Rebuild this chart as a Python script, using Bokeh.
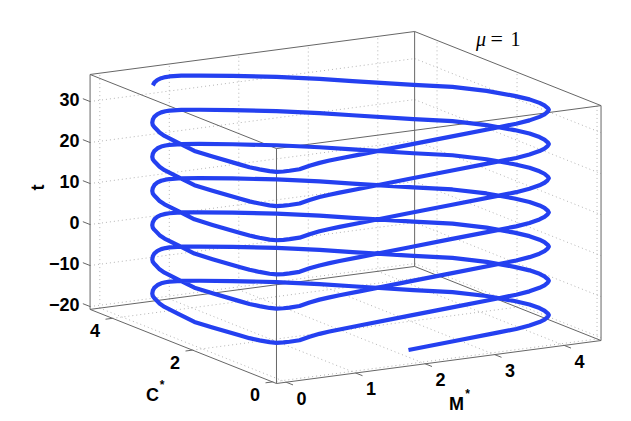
from bokeh.plotting import figure
from bokeh.models import Range1d
from bokeh.core.properties import value
from bokeh.embed import file_html
from bokeh.resources import INLINE

t_ticks = [-20, -10, 0, 10, 20, 30]
M_ticks = [0, 1, 2, 3, 4]
C_ticks = [0, 2, 4]
M_lim = [-0.14, 4.53]
C_lim = [-0.10, 4.56]
t_lim = [-20.7, 36.6]

M_turn = [.115,.187,.262,.397,.591,.768,.929,1.087,1.397,2.152,2.776,3.492,3.767,3.965,4.14,4.235,4.317,4.376,4.398,4.423,4.419,4.387,4.301,4.117,3.83,3.436,2.844,2.529,2.091,1.616,1.248,1.035,.873,.808,.723,.628,.518,.409,.317,.25,.209,.174,.112,.071,.031,-.022,.016,.058,.062,.074,.096]
C_turn = [.342,.293,.272,.257,.343,.402,.432,.455,.495,.582,.639,.685,.695,.708,.762,.801,.867,.938,.997,1.129,1.245,1.44,1.667,2.046,2.398,2.688,3.184,3.461,3.776,4.049,4.238,4.323,4.334,4.322,4.281,4.208,4.093,3.945,3.799,3.67,3.562,3.452,3.261,3.065,2.664,2.156,1.77,1.17,.926,.696,.483]
t_turn = [0,.125,.209,.334,.417,.5,.584,.651,.751,1.084,1.418,1.918,2.168,2.502,2.752,3.002,3.169,3.253,3.336,3.503,3.67,3.836,4.003,4.17,4.42,4.67,5.004,5.171,5.421,5.671,5.838,5.963,6.088,6.13,6.213,6.297,6.38,6.464,6.505,6.547,6.572,6.589,6.614,6.639,6.672,6.714,6.755,7.089,7.339,7.673,8.006]
turn_t = [-21.41,-13.07,-4.73,3.61,11.95,20.29,28.63]

M, C, t = [], [], []
for k, t0 in enumerate(turn_t):
    for m, c, dt in zip(M_turn, C_turn, t_turn):
        if k == 0 and dt < 1.08:
            continue
        if k == 6 and dt > 6.47:
            continue
        M.append(m); C.append(c); t.append(t0 + dt)

def px(m, c):
    return 282.7 + 69.5 * m - 40.0 * c
def py(m, c, tt):
    return 295.25 - 9.2 * m - 15.9 * c - 4.1 * tt

p = figure(width=623, height=413, x_range=Range1d(1, 624), y_range=Range1d(413, 0),
           output_backend="svg", toolbar_location=None, min_border=0, outline_line_color=None)
p.axis.visible = False
p.grid.visible = False

def seg3(a, b):
    return [px(a[0], a[1]), px(b[0], b[1])], [py(*a), py(*b)]

grid = []
M0, M1 = M_lim; C0, C1 = C_lim; T0, T1 = t_lim
for tv in t_ticks:
    grid += [((M0, C1, tv), (M1, C1, tv)), ((M1, C1, tv), (M1, C0, tv))]
for m in M_ticks:
    grid += [((m, C1, T0), (m, C1, T1)), ((m, C0, T0), (m, C1, T0))]
for c in C_ticks:
    grid += [((M1, c, T0), (M1, c, T1)), ((M0, c, T0), (M1, c, T0))]
gs = [seg3(a, b) for a, b in grid]
p.multi_line([g[0] for g in gs], [g[1] for g in gs], line_color="#b4b4b4", line_width=1, line_dash="1 3")

box = []
for tv in (T0, T1):
    box += [((M0, C0, tv), (M1, C0, tv)), ((M1, C0, tv), (M1, C1, tv)),
            ((M1, C1, tv), (M0, C1, tv)), ((M0, C1, tv), (M0, C0, tv))]
for m, c in ((M0, C0), (M1, C0), (M1, C1), (M0, C1)):
    box.append(((m, c, T0), (m, c, T1)))
bs = [seg3(a, b) for a, b in box]
p.multi_line([g[0] for g in bs], [g[1] for g in bs], line_color="#666666", line_width=1)

ticks = [((M0, C1, tv), (M0, C1 + .18, tv)) for tv in t_ticks]
ticks += [((m, C0, T0), (m, C0 - .17, T0)) for m in M_ticks]
ticks += [((M0, c, T0), (M0 - .1, c, T0)) for c in C_ticks]
ts = [seg3(a, b) for a, b in ticks]
p.multi_line([g[0] for g in ts], [g[1] for g in ts], line_color="#666666", line_width=1)

p.line([px(a, b) for a, b in zip(M, C)], [py(a, b, c) for a, b, c in zip(M, C, t)],
       line_color="#2440f0", line_width=4.2, line_join="round")

font = value("Liberation Sans")
def label(xs, ys, txt, size="18px", align="center", **kw):
    p.text(xs, ys, text=txt, text_font=kw.get("font", font), text_font_size=value(size),
           text_font_style=kw.get("style", "bold"), text_align=align, text_baseline="middle",
           text_color="black", angle=kw.get("angle", 0))

label([80] * len(t_ticks), [py(M0, C1, v) - 2.5 for v in t_ticks],
      [str(v).replace("-", "\u2212") for v in t_ticks], align="right")
label([px(M0, c) - 17.5 for c in C_ticks], [py(M0, c, T0) + 12.5 for c in C_ticks], [str(c) for c in C_ticks])
label([px(m, C0) + 15.3 for m in M_ticks], [py(m, C0, T0) + 15.8 for m in M_ticks], [str(m) for m in M_ticks])
label([38], [187], ["t"], angle=1.5708)
label([153], [394], ["C"])
label([162.5], [384], ["*"], size="12px")
label([457], [403], ["M"])
label([468], [393], ["*"], size="12px")
serif = value("Liberation Serif")
label([476.5], [38], ["\u03bc"], size="20px", align="left", font=serif, style="italic")
label([491], [38], ["="], size="22px", align="left", font=serif, style="normal")
label([511], [38], ["1"], size="20px", align="left", font=serif, style="normal")

open("out.html", "w").write(file_html(p, INLINE))
